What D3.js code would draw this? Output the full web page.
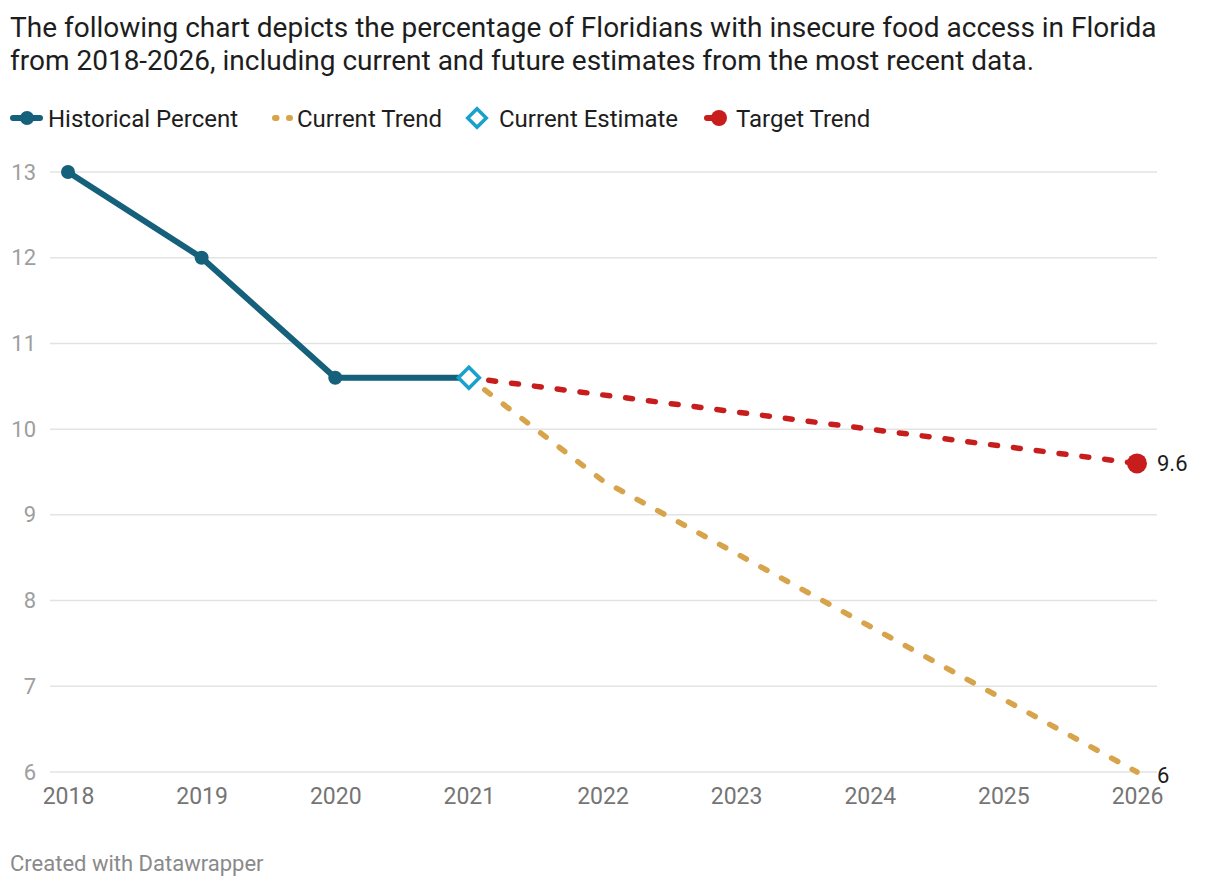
<!DOCTYPE html>
<html>
<head>
<meta charset="utf-8">
<script src="https://cdn.jsdelivr.net/npm/d3@7"></script>
<style>
  body { margin: 0; background: #fff; font-family: Roboto, "Noto Sans", sans-serif; }
  #chart { width: 1220px; height: 888px; }
</style>
</head>
<body>
<div id="chart"></div>
<script>
// Food insecurity in Florida, 2018-2026
const years = [2018, 2019, 2020, 2021, 2022, 2023, 2024, 2025, 2026];
const yTicks = [6, 7, 8, 9, 10, 11, 12, 13];

const historical = [[2018, 13], [2019, 12], [2020, 10.6], [2021, 10.6]];
const currentTrend = [[2021, 10.6], [2022, 9.4], [2023, 8.55], [2024, 7.7], [2025, 6.85], [2026, 6]];
const currentEstimate = [[2021, 10.6]];
const targetTrend = [[2021, 10.6], [2022, 10.4], [2023, 10.2], [2024, 10.0], [2025, 9.8], [2026, 9.6]];

const colors = {
  historical: '#15607a',
  current: '#d8a44b',
  estimate: '#18a1cd',
  target: '#c71e1d'
};

const width = 1220;
const height = 888;

const svg = d3.select('#chart').append('svg')
  .attr('width', width)
  .attr('height', height)
  .style('font-family', 'Roboto, sans-serif');

// Title
const title = svg.append('text').attr('x', 10).attr('fill', '#1d1d1d').attr('font-size', '28px');
title.append('tspan').attr('x', 10).attr('y', 37)
  .text('The following chart depicts the percentage of Floridians with insecure food access in Florida');
title.append('tspan').attr('x', 10).attr('y', 70)
  .text('from 2018-2026, including current and future estimates from the most recent data.');

// Legend
const legend = svg.append('g').attr('transform', 'translate(0,118)');
const legFont = '24px';
const leg1 = legend.append('g');
leg1.append('line').attr('x1', 13).attr('x2', 40).attr('y1', 0).attr('y2', 0)
  .attr('stroke', colors.historical).attr('stroke-width', 6).attr('stroke-linecap', 'round');
leg1.append('circle').attr('cx', 27).attr('cy', 0).attr('r', 7).attr('fill', colors.historical);
leg1.append('text').attr('x', 48).attr('y', 8.5).attr('font-size', legFont).attr('fill', '#1d1d1d').text('Historical Percent');

const leg2 = legend.append('g');
leg2.append('line').attr('x1', 275).attr('x2', 290).attr('y1', 0).attr('y2', 0)
  .attr('stroke', colors.current).attr('stroke-width', 6).attr('stroke-linecap', 'round')
  .attr('stroke-dasharray', '1.5,12.5');
leg2.append('text').attr('x', 297).attr('y', 8.5).attr('font-size', legFont).attr('fill', '#1d1d1d').text('Current Trend');

const leg3 = legend.append('g');
leg3.append('path').attr('d', d3.symbol(d3.symbolDiamond2, 220)())
  .attr('transform', 'translate(477,0)')
  .attr('fill', '#fff').attr('stroke', colors.estimate).attr('stroke-width', 3.5);
leg3.append('text').attr('x', 499).attr('y', 8.5).attr('font-size', legFont).attr('fill', '#1d1d1d').text('Current Estimate');

const leg4 = legend.append('g');
leg4.append('line').attr('x1', 707).attr('x2', 718).attr('y1', 0).attr('y2', 0)
  .attr('stroke', colors.target).attr('stroke-width', 6).attr('stroke-linecap', 'round');
leg4.append('circle').attr('cx', 719).attr('cy', 0).attr('r', 8).attr('fill', colors.target);
leg4.append('text').attr('x', 736).attr('y', 8.5).attr('font-size', legFont).attr('fill', '#1d1d1d').text('Target Trend');

// Scales
const x = d3.scaleLinear().domain([2018, 2026]).range([68, 1137]);
const y = d3.scaleLinear().domain([6, 13]).range([772, 172]);

// Grid
const grid = svg.append('g');
grid.selectAll('line')
  .data(yTicks)
  .join('line')
  .attr('x1', 50).attr('x2', 1157)
  .attr('y1', d => y(d)).attr('y2', d => y(d))
  .attr('stroke', '#e3e3e3').attr('stroke-width', 1.5);

// Y axis labels
svg.append('g')
  .attr('transform', 'translate(36,0)')
  .call(d3.axisLeft(y).tickValues(yTicks).tickSize(0).tickPadding(0).tickFormat(d3.format('d')))
  .call(g => g.select('.domain').remove())
  .selectAll('text')
  .attr('font-family', 'Roboto, sans-serif')
  .attr('font-size', '22px')
  .attr('fill', '#9e9e9e')
  .attr('dy', '0.32em');

// X axis labels
svg.append('g')
  .attr('transform', 'translate(0,787)')
  .call(d3.axisBottom(x).tickValues(years).tickSize(0).tickPadding(0).tickFormat(d3.format('d')))
  .call(g => g.select('.domain').remove())
  .selectAll('text')
  .attr('font-family', 'Roboto, sans-serif')
  .attr('font-size', '23px')
  .attr('fill', '#757575')
  .attr('dy', '0.75em');

const line = d3.line().x(d => x(d[0])).y(d => y(d[1]));

// Current trend (dashed)
svg.append('path')
  .datum(currentTrend)
  .attr('fill', 'none')
  .attr('stroke', colors.current)
  .attr('stroke-width', 5.5)
  .attr('stroke-linecap', 'round')
  .attr('stroke-dasharray', '7,16.5')
  .attr('stroke-dashoffset', -20)
  .attr('d', line);

// Target trend (dashed)
svg.append('path')
  .datum(targetTrend)
  .attr('fill', 'none')
  .attr('stroke', colors.target)
  .attr('stroke-width', 5.5)
  .attr('stroke-linecap', 'round')
  .attr('stroke-dasharray', '7,16')
  .attr('stroke-dashoffset', -20)
  .attr('d', line);

// Historical
svg.append('path')
  .datum(historical)
  .attr('fill', 'none')
  .attr('stroke', colors.historical)
  .attr('stroke-width', 6)
  .attr('stroke-linejoin', 'round')
  .attr('d', line);

svg.selectAll('.hist-dot')
  .data(historical.slice(0, 3))
  .join('circle')
  .attr('class', 'hist-dot')
  .attr('cx', d => x(d[0]))
  .attr('cy', d => y(d[1]))
  .attr('r', 7)
  .attr('fill', colors.historical);

// Current estimate diamond
svg.selectAll('.est')
  .data(currentEstimate)
  .join('path')
  .attr('class', 'est')
  .attr('d', d3.symbol(d3.symbolDiamond2, 280)())
  .attr('transform', d => `translate(${x(d[0])},${y(d[1])})`)
  .attr('fill', '#fff')
  .attr('stroke', colors.estimate)
  .attr('stroke-width', 3.5);

// Target endpoint
const targetEnd = targetTrend[targetTrend.length - 1];
svg.append('circle')
  .attr('cx', x(targetEnd[0]))
  .attr('cy', y(targetEnd[1]))
  .attr('r', 10)
  .attr('fill', colors.target);

// End labels
const currentEnd = currentTrend[currentTrend.length - 1];
svg.append('text')
  .attr('x', x(targetEnd[0]) + 20).attr('y', y(targetEnd[1]) + 8)
  .attr('font-size', '22px').attr('fill', '#1d1d1d')
  .text(targetEnd[1]);
svg.append('text')
  .attr('x', x(currentEnd[0]) + 20).attr('y', y(currentEnd[1]) + 11)
  .attr('font-size', '22px').attr('fill', '#1d1d1d')
  .text(currentEnd[1]);

// Footer
svg.append('text')
  .attr('x', 10).attr('y', 871)
  .attr('font-size', '22px').attr('fill', '#8a8a8a')
  .text('Created with Datawrapper');
</script>
</body>
</html>
